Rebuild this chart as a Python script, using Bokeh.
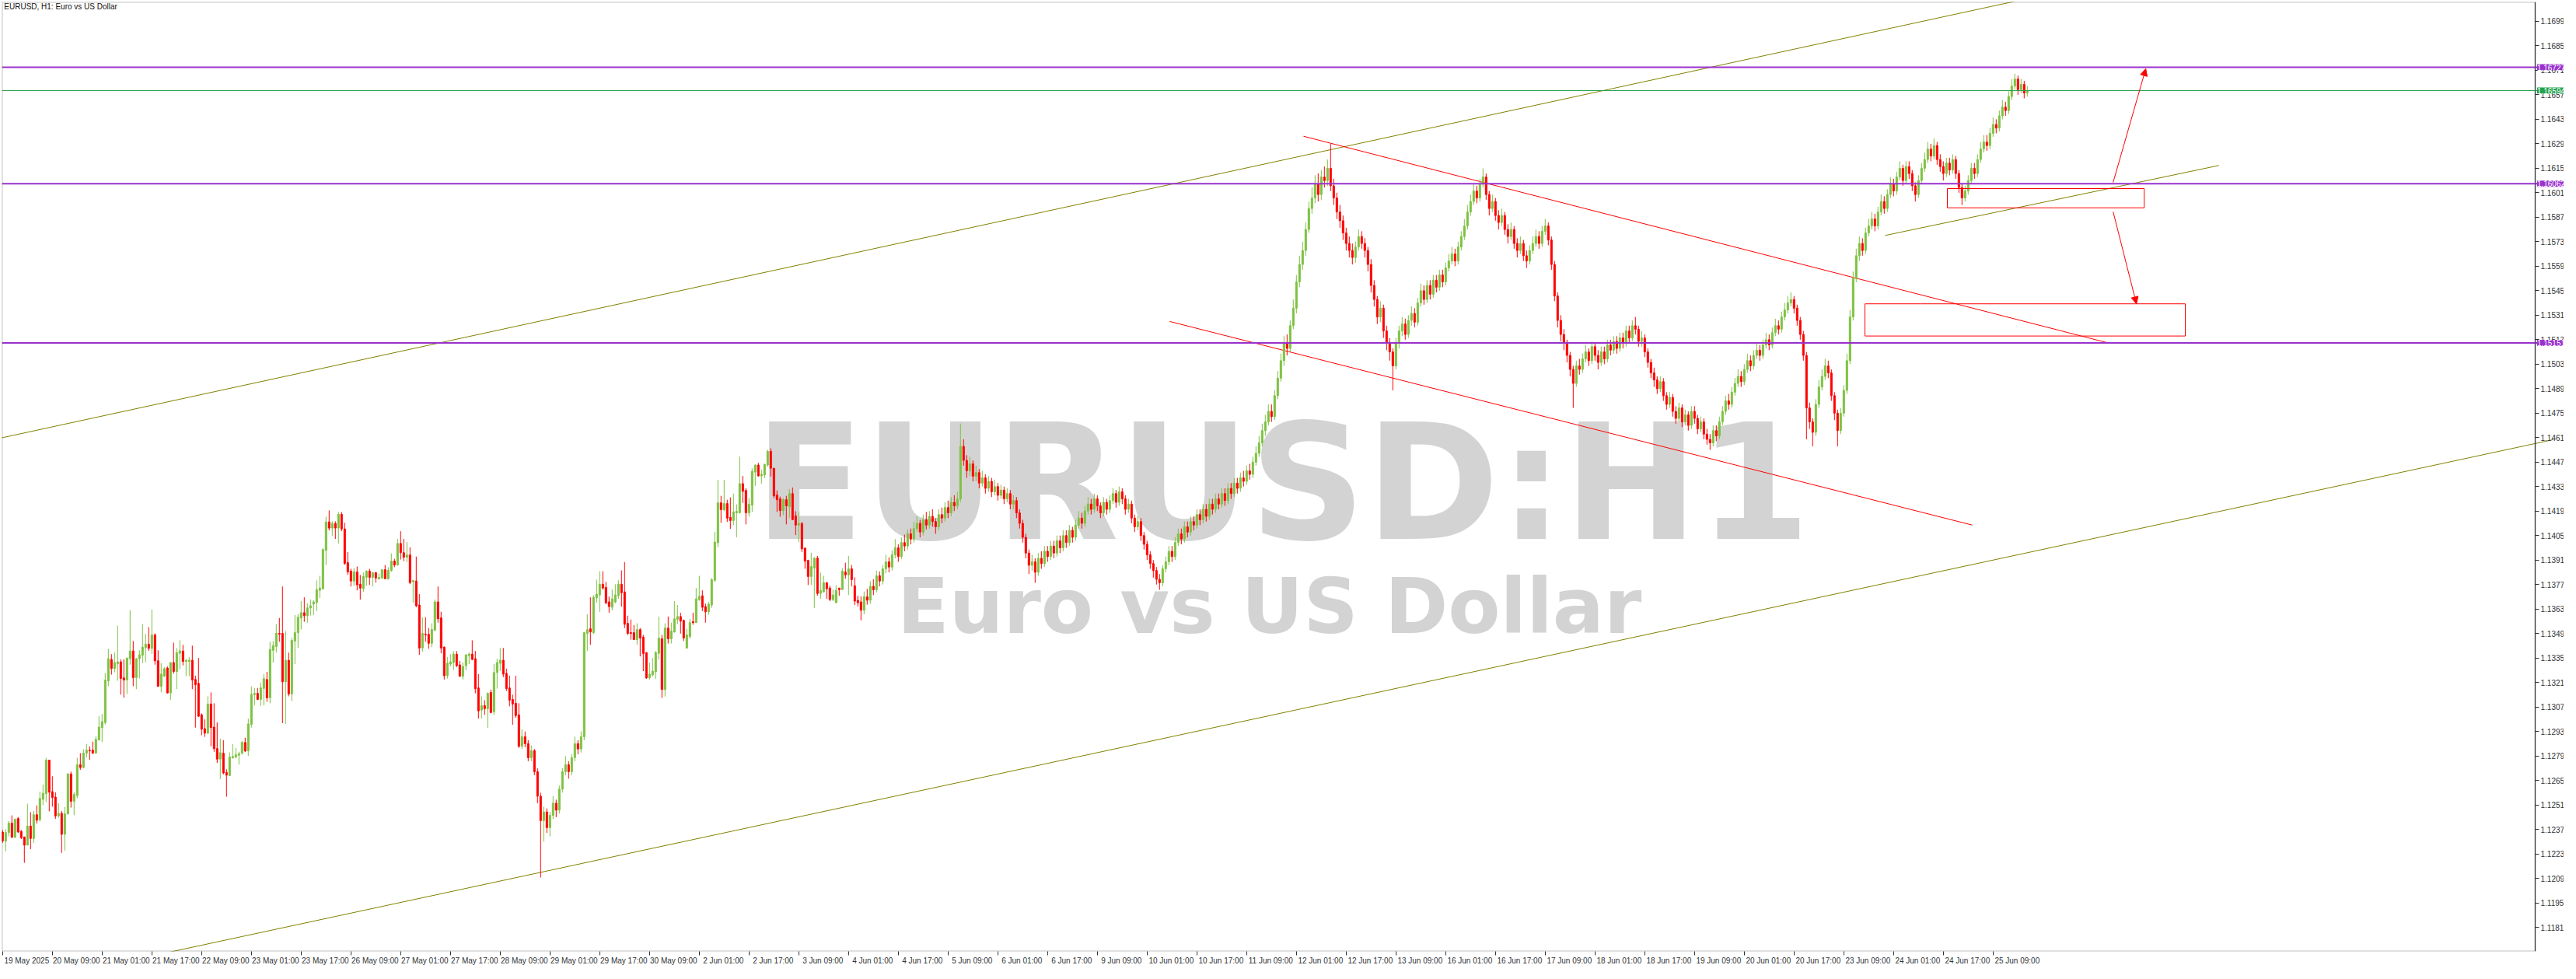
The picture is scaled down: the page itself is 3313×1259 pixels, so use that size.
from bokeh.plotting import figure
from bokeh.models import (Range1d, FixedTicker, PrintfTickFormatter, Span, Label, LinearAxis,
                          Arrow, NormalHead, ColumnDataSource, BoxAnnotation)
from bokeh.embed import file_html
from bokeh.resources import INLINE
from bokeh.core.properties import value

# ---- candle data, prices in points (1e-5) ----
open_pts = [
112355,112302,112352,112406,112324,112432,112358,112327,112280,112389,
112318,112454,112425,112542,112574,112766,112586,112555,112447,112462,
112342,112459,112687,112531,112564,112740,112724,112806,112823,112823,
112806,112882,112952,112981,113219,113342,113290,113317,113328,113236,
113224,113346,113390,113238,113346,113365,113409,113429,113405,113482,
113334,113188,113246,113293,113150,113324,113273,113377,113390,113330,
113330,113337,113227,113205,113025,112946,112920,113087,112955,112832,
112772,112806,112696,112678,112779,112784,112794,112806,112867,112820,
112970,113140,113148,113113,113176,113227,113122,113394,113416,113491,
113491,113214,113337,113144,113447,113495,113579,113609,113592,113636,
113658,113667,113737,113746,113965,114128,114093,114119,114093,114172,
114088,113895,113847,113790,113842,113772,113746,113811,113847,113811,
113838,113803,113807,113855,113803,113851,113904,113882,114005,113952,
113926,113939,113787,113790,113653,113407,113486,113486,113434,113508,
113671,113579,113412,113249,113315,113324,113372,113311,113245,113306,
113363,113372,113346,113179,113052,113078,113060,113153,113043,113267,
113320,113337,113262,113179,113113,113091,113025,112845,112900,112860,
112780,112820,112700,112560,112420,112470,112380,112450,112520,112480,
112600,112700,112740,112700,112780,112860,112830,112900,113490,113517,
113495,113693,113710,113772,113754,113671,113640,113671,113706,113772,
113728,113548,113495,113495,113455,113512,113469,113381,113236,113253,
113271,113376,113460,113170,113521,113460,113499,113570,113587,113565,
113407,113473,113558,113552,113684,113706,113644,113614,113653,113794,
114009,114237,114198,114233,114154,114136,114180,114180,114347,114308,
114180,114224,114413,114453,114391,114396,114453,114532,114435,114281,
114259,114193,114255,114215,114290,114163,114110,114119,113978,113908,
113816,113864,113921,113719,113728,113781,113750,113684,113666,113750,
113741,113842,113825,113860,113763,113680,113671,
113623,113700,113680,113760,113740,113820,113790,113860,113900,113870,
113940,113980,113930,114010,113990,114060,114030,114090,114120,114070,
114140,114110,114160,114130,114100,114170,114150,114210,114180,114240,
114220,114260,114560,114480,114420,114460,114390,114410,114350,114380,
114320,114360,114300,114330,114280,114310,114260,114290,114230,114250,
114180,114120,114040,113950,113880,113900,113840,113920,113890,113960,
113930,113990,113950,114020,113980,114050,114010,114080,114040,114110,
114150,114120,114190,114230,114200,114260,114220,114180,114240,114200,
114250,114290,114240,114300,114260,114200,114230,114150,114100,114130,
114050,114000,113940,113890,113850,113800,113780,113860,113900,113960,
113930,114010,114060,114030,114100,114070,114130,114110,114170,114140,
114200,114160,114230,114200,114260,114230,114290,114250,114320,114290,
114350,114320,114380,114360,114420,114400,114470,114520,114580,114650,
114700,114760,114730,114850,114950,115050,115150,115120,115250,115350,
115500,115600,115680,115800,115920,115980,116060,116000,116100,116080,
116150,116050,115980,115900,115850,115780,115720,115680,115640,115700,
115760,115720,115680,115600,115480,115400,115300,115350,115220,115150,
115100,115020,115150,115220,115260,115200,115280,115320,115270,115380,
115450,115400,115480,115430,115510,115470,115540,115500,115580,115620,
115660,115620,115700,115760,115820,115900,115960,116020,115980,116060,
116100,116000,115920,115960,115880,115840,115880,115800,115760,115800,
115720,115680,115720,115650,115620,115680,115720,115760,115720,115790,
115820,115740,115600,115420,115280,115200,115150,115080,115000,114920,
115020,115000,115060,115100,115050,115130,115080,115040,115100,115060,
115140,115110,115160,115120,115180,115150,115220,115180,115250,115230,
115160,115180,115100,115040,114980,114940,114890,114930,114850,114800,
114840,114760,114720,114780,114700,114740,114680,114760,114720,114660,
114700,114630,114600,114580,114650,114620,114700,114760,114820,114800,
114870,114920,114960,114930,115000,115050,115020,115080,115110,115080,
115140,115170,115140,115210,115250,115230,115300,115340,115380,115400,
115350,115280,115200,115080,114780,114700,114640,114800,114900,114960,
115020,114980,114850,114750,114650,114750,114880,115050,115300,115520,
115650,115720,115680,115780,115820,115860,115820,115900,115960,115920,
116000,116060,116020,116100,116150,116080,116160,116120,116050,116000,
116080,116150,116200,116260,116220,116280,116200,116160,116120,116180,
116140,116200,116120,116040,115980,116020,116080,116150,116120,116200,
116260,116300,116280,116350,116400,116380,116450,116500,116480,116560,
116620,116660,116600,116630,116580,
]
high_pts = [
112367,112371,112418,112450,112432,112441,112367,112327,112517,112468,
112476,112507,112586,112626,112779,112766,112674,112582,112520,112476,
112498,112692,112700,112582,112779,112806,112828,112858,112845,112872,
112902,113017,113030,113263,113403,113372,113381,113535,113342,113342,
113350,113623,113447,113350,113394,113544,113487,113526,113627,113491,
113394,113320,113298,113302,113324,113438,113407,113451,113425,113346,
113355,113421,113249,113350,113034,112999,113131,113153,113091,112981,
112889,112880,112714,112810,112858,112836,112814,112876,112894,113003,
113188,113179,113179,113210,113258,113271,113443,113447,113544,113579,
113759,113504,113381,113465,113596,113601,113675,113697,113662,113684,
113680,113794,113820,113978,114158,114194,114132,114132,114185,114185,
114123,113956,113860,113864,113873,113825,113838,113851,113860,113838,
113842,113833,113855,113882,113869,113948,113917,114031,114075,114031,
114013,113983,113794,113930,113715,113583,113583,113522,113548,113684,
113759,113614,113416,113355,113372,113390,113390,113333,113324,113372,
113381,113451,113390,113258,113131,113109,113153,113170,113315,113346,
113407,113407,113289,113249,113140,113249,113091,112942,112930,112880,
112850,112830,112720,112580,112500,112490,112470,112560,112540,112620,
112720,112790,112760,112800,112900,112880,112930,113499,113600,113697,
113710,113798,113846,113846,113785,113701,113741,113772,113794,113851,
113899,113592,113570,113539,113548,113521,113482,113381,113324,113350,
113390,113587,113482,113548,113587,113552,113675,113653,113609,113570,
113517,113574,113609,113750,113820,113737,113662,113671,113807,114071,
114369,114277,114369,114255,114268,114290,114229,114501,114391,114321,
114264,114435,114457,114466,114426,114461,114540,114549,114435,114308,
114273,114264,114277,114316,114325,114189,114185,114128,113983,113912,
113952,113926,113934,113838,113820,113781,113763,113741,113767,113750,
113864,113895,113934,113882,113811,113706,113702,
113730,113745,113790,113800,113850,113845,113880,113940,113925,113965,
114030,114000,114040,114055,114085,114090,114130,114160,114140,114170,
114185,114190,114200,114150,114200,114210,114240,114250,114270,114280,
114300,114690,114600,114510,114500,114480,114450,114430,114420,114400,
114390,114380,114370,114350,114340,114330,114320,114310,114280,114270,
114200,114140,114060,113970,113940,113920,113950,113960,113990,113990,
114020,114020,114050,114050,114080,114080,114110,114100,114140,114190,
114180,114220,114270,114260,114290,114280,114240,114270,114260,114280,
114320,114310,114330,114320,114280,114260,114250,114170,114160,114150,
114070,114020,113960,113910,113870,113830,113880,113930,113990,113990,
114040,114090,114090,114130,114130,114160,114160,114200,114200,114230,
114230,114260,114260,114290,114290,114320,114320,114350,114350,114380,
114380,114410,114420,114450,114460,114500,114560,114620,114690,114740,
114800,114800,114880,114990,115090,115190,115200,115280,115400,115540,
115650,115730,115840,115960,116040,116110,116120,116140,116160,116200,
116290,116090,116010,115940,115880,115810,115760,115720,115730,115800,
115790,115750,115700,115630,115510,115420,115390,115370,115250,115180,
115120,115180,115250,115300,115290,115310,115360,115350,115410,115490,
115480,115510,115510,115540,115540,115570,115570,115610,115660,115700,
115690,115730,115790,115860,115940,116000,116060,116050,116090,116150,
116120,116020,116000,115980,115910,115920,115900,115830,115840,115820,
115750,115760,115740,115680,115710,115760,115800,115790,115820,115860,
115840,115760,115620,115440,115310,115230,115170,115100,115020,115050,
115060,115090,115140,115120,115160,115150,115110,115130,115130,115170,
115170,115190,115190,115210,115210,115250,115250,115280,115300,115250,
115220,115200,115120,115060,115010,114960,114960,114950,114870,114870,
114860,114790,114810,114800,114770,114760,114790,114790,114740,114730,
114720,114660,114630,114680,114680,114730,114790,114850,114860,114900,
114950,115000,114990,115030,115090,115080,115110,115150,115140,115170,
115210,115200,115240,115290,115280,115330,115380,115420,115440,115420,
115370,115300,115220,115100,114810,114720,114830,114940,115000,115060,
115050,115000,114870,114770,114780,114910,115090,115340,115560,115690,
115760,115750,115810,115860,115900,115890,115930,116000,115990,116030,
116100,116090,116130,116190,116170,116190,116190,116140,116070,116110,
116180,116240,116300,116290,116320,116300,116230,116190,116210,116210,
116230,116220,116140,116060,116050,116110,116180,116180,116230,116300,
116340,116340,116380,116440,116430,116480,116540,116530,116590,116660,
116690,116680,116660,116650,116620,
]
low_pts = [
112293,112245,112330,112324,112323,112349,112315,112179,112280,112257,
112293,112403,112415,112509,112526,112473,112500,112430,112437,112236,
112249,112454,112495,112451,112548,112711,112719,112781,112768,112801,
112803,112877,112869,112970,113189,113255,113268,113220,113141,113123,
113145,113312,113189,113172,113233,113321,113325,113391,113374,113312,
113185,113154,113242,113150,113110,113260,113172,113286,113308,113246,
113246,113172,112952,113012,112908,112899,112916,112845,112814,112750,
112658,112684,112557,112675,112775,112776,112741,112798,112812,112790,
112952,113079,113109,113075,113079,113100,113091,113324,113381,113443,
112977,112973,113131,113104,113315,113407,113513,113557,113552,113592,
113596,113618,113693,113741,113882,114079,114049,114031,114005,114075,
113882,113825,113759,113763,113737,113684,113728,113763,113768,113759,
113781,113798,113803,113803,113798,113842,113869,113877,113913,113904,
113899,113772,113667,113640,113368,113386,113443,113403,113412,113508,
113552,113377,113227,113232,113302,113280,113298,113245,113227,113280,
113315,113337,113148,113003,113003,113025,112951,113034,113025,113175,
113276,113241,113161,113074,112968,113008,112836,112830,112840,112760,
112760,112680,112520,112095,112300,112350,112330,112430,112440,112460,
112580,112680,112660,112680,112760,112800,112810,112880,113390,113425,
113486,113666,113614,113741,113657,113609,113622,113662,113688,113644,
113521,113482,113455,113455,113425,113359,113275,113231,113227,113245,
113231,113341,113122,113130,113433,113433,113495,113543,113490,113447,
113403,113460,113540,113552,113677,113618,113552,113596,113636,113785,
113983,114123,114189,114128,114088,114110,114040,114176,114237,114114,
114158,114185,114334,114387,114347,114378,114444,114387,114264,114185,
114158,114167,114114,114150,114141,114053,114013,113956,113860,113767,
113767,113636,113706,113688,113724,113688,113675,113675,113666,113706,
113741,113803,113710,113759,113653,113645,113565,
113600,113655,113660,113710,113725,113760,113770,113835,113840,113850,
113920,113900,113915,113960,113970,114000,114010,114070,114040,114050,
114085,114090,114100,114060,114080,114120,114130,114150,114160,114190,
114200,114240,114450,114380,114390,114360,114360,114320,114330,114290,
114300,114270,114280,114250,114260,114230,114240,114200,114200,114150,
114090,114010,113920,113830,113850,113780,113820,113860,113870,113900,
113910,113920,113930,113950,113960,113980,113990,114010,114020,114090,
114090,114100,114170,114170,114180,114190,114150,114160,114170,114180,
114230,114210,114220,114230,114170,114180,114120,114070,114080,114020,
113970,113910,113860,113810,113770,113740,113760,113840,113880,113900,
113910,113990,114000,114010,114040,114050,114080,114090,114110,114120,
114130,114140,114170,114180,114200,114210,114220,114230,114260,114270,
114290,114300,114330,114340,114370,114380,114450,114500,114560,114620,
114680,114700,114710,114830,114930,115020,115080,115100,115230,115320,
115470,115570,115650,115780,115890,115950,115960,115970,116040,116050,
116020,115940,115860,115810,115740,115680,115640,115600,115610,115680,
115690,115640,115560,115440,115360,115260,115270,115180,115110,115050,
114880,115000,115120,115190,115170,115180,115250,115240,115250,115360,
115370,115380,115400,115410,115440,115450,115470,115480,115560,115600,
115590,115600,115680,115740,115800,115880,115940,115950,115960,116040,
115970,115880,115900,115850,115800,115820,115770,115720,115740,115690,
115640,115660,115620,115580,115600,115660,115700,115690,115700,115770,
115710,115570,115390,115240,115160,115110,115040,114960,114780,114900,
114970,114980,115040,115020,115030,115050,115000,115020,115030,115040,
115080,115090,115090,115100,115120,115130,115150,115160,115200,115130,
115130,115070,115010,114950,114900,114860,114870,114820,114770,114780,
114730,114690,114700,114670,114680,114650,114660,114690,114630,114640,
114600,114570,114540,114560,114590,114600,114680,114740,114770,114780,
114850,114900,114900,114910,114980,114990,115000,115060,115050,115060,
115120,115110,115120,115190,115200,115210,115280,115320,115360,115320,
115250,115170,115050,114600,114660,114560,114620,114780,114880,114940,
114950,114820,114710,114560,114630,114730,114860,115030,115280,115500,
115620,115650,115660,115760,115800,115790,115800,115880,115890,115900,
115980,115990,116000,116080,116050,116060,116090,116020,115960,115980,
116060,116130,116180,116190,116200,116170,116130,116080,116100,116110,
116120,116090,116010,115940,115960,116000,116060,116090,116100,116180,
116240,116250,116260,116330,116350,116360,116430,116450,116460,116540,
116600,116570,116580,116550,116560,
]
close_pts = [
112304,112352,112406,112324,112428,112355,112323,112280,112389,112318,
112454,112422,112547,112577,112766,112583,112553,112447,112462,112342,
112459,112687,112531,112569,112740,112724,112806,112823,112819,112806,
112885,112955,112986,113223,113346,113290,113324,113328,113233,113224,
113350,113390,113238,113346,113368,113412,113429,113405,113482,113334,
113188,113258,113289,113150,113324,113273,113381,113391,113330,113336,
113337,113224,113198,113017,112943,112920,113087,112952,112832,112772,
112809,112693,112680,112784,112787,112797,112803,112867,112819,112973,
113142,113148,113113,113179,113232,113122,113399,113421,113491,113486,
113214,113337,113144,113451,113495,113583,113609,113592,113636,113649,
113671,113741,113750,113970,114128,114093,114119,114093,114172,114088,
113891,113842,113790,113842,113768,113750,113816,113847,113811,113838,
113807,113811,113855,113803,113851,113904,113882,114005,113952,113926,
113939,113781,113793,113649,113407,113491,113482,113434,113513,113671,
113574,113407,113249,113320,113328,113372,113306,113245,113302,113368,
113372,113342,113175,113047,113078,113060,113148,113038,113267,113324,
113337,113258,113175,113109,113087,113021,112845,112900,112860,112780,
112820,112700,112560,112420,112470,112380,112450,112520,112480,112600,
112700,112740,112700,112780,112860,112830,112900,113495,113512,113499,
113697,113715,113772,113750,113666,113644,113688,113710,113772,113723,
113543,113490,113490,113455,113512,113464,113376,113236,113258,113275,
113381,113464,113170,113521,113460,113504,113574,113587,113561,113464,
113482,113552,113552,113688,113702,113640,113614,113658,113798,114013,
114237,114198,114233,114150,114136,114185,114189,114347,114303,114180,
114229,114417,114453,114391,114400,114457,114532,114435,114277,114255,
114193,114255,114220,114290,114141,114110,114119,113974,113904,113816,
113873,113921,113719,113737,113781,113746,113684,113710,113737,113741,
113847,113825,113860,113798,113675,113666,113623,
113700,113680,113760,113740,113820,113790,113860,113900,113870,113940,
113980,113930,114010,113990,114060,114030,114090,114120,114070,114140,
114110,114160,114130,114100,114170,114150,114210,114180,114240,114220,
114260,114560,114480,114420,114460,114390,114410,114350,114380,114320,
114360,114300,114330,114280,114310,114260,114290,114230,114250,114180,
114120,114040,113950,113880,113900,113840,113920,113890,113960,113930,
113990,113950,114020,113980,114050,114010,114080,114040,114110,114150,
114120,114190,114230,114200,114260,114220,114180,114240,114200,114250,
114290,114240,114300,114260,114200,114230,114150,114100,114130,114050,
114000,113940,113890,113850,113800,113780,113860,113900,113960,113930,
114010,114060,114030,114100,114070,114130,114110,114170,114140,114200,
114160,114230,114200,114260,114230,114290,114250,114320,114290,114350,
114320,114380,114360,114420,114400,114470,114520,114580,114650,114700,
114760,114730,114850,114950,115050,115150,115120,115250,115350,115500,
115600,115680,115800,115920,115980,116060,116000,116100,116080,116150,
116050,115980,115900,115850,115780,115720,115680,115640,115700,115760,
115720,115680,115600,115480,115400,115300,115350,115220,115150,115100,
115020,115150,115220,115260,115200,115280,115320,115270,115380,115450,
115400,115480,115430,115510,115470,115540,115500,115580,115620,115660,
115620,115700,115760,115820,115900,115960,116020,115980,116060,116100,
116000,115920,115960,115880,115840,115880,115800,115760,115800,115720,
115680,115720,115650,115620,115680,115720,115760,115720,115790,115820,
115740,115600,115420,115280,115200,115150,115080,115000,114920,115020,
115000,115060,115100,115050,115130,115080,115040,115100,115060,115140,
115110,115160,115120,115180,115150,115220,115180,115250,115230,115160,
115180,115100,115040,114980,114940,114890,114930,114850,114800,114840,
114760,114720,114780,114700,114740,114680,114760,114720,114660,114700,
114630,114600,114580,114650,114620,114700,114760,114820,114800,114870,
114920,114960,114930,115000,115050,115020,115080,115110,115080,115140,
115170,115140,115210,115250,115230,115300,115340,115380,115400,115350,
115280,115200,115080,114780,114700,114640,114800,114900,114960,115020,
114980,114850,114750,114650,114750,114880,115050,115300,115520,115650,
115720,115680,115780,115820,115860,115820,115900,115960,115920,116000,
116060,116020,116100,116150,116080,116160,116120,116050,116000,116080,
116150,116200,116260,116220,116280,116200,116160,116120,116180,116140,
116200,116120,116040,115980,116020,116080,116150,116120,116200,116260,
116300,116280,116350,116400,116380,116450,116500,116480,116560,116620,
116660,116600,116630,116580,116594,
]

x_tick_labels = ["19 May 2025", "20 May 09:00", "21 May 01:00", "21 May 17:00", "22 May 09:00",
                 "23 May 01:00", "23 May 17:00", "26 May 09:00", "27 May 01:00", "27 May 17:00",
                 "28 May 09:00", "29 May 01:00", "29 May 17:00", "30 May 09:00", "2 Jun 01:00",
                 "2 Jun 17:00", "3 Jun 09:00", "4 Jun 01:00", "4 Jun 17:00", "5 Jun 09:00",
                 "6 Jun 01:00", "6 Jun 17:00", "9 Jun 09:00", "10 Jun 01:00", "10 Jun 17:00",
                 "11 Jun 09:00", "12 Jun 01:00", "12 Jun 17:00", "13 Jun 09:00", "16 Jun 01:00",
                 "16 Jun 17:00", "17 Jun 09:00", "18 Jun 01:00", "18 Jun 17:00", "19 Jun 09:00",
                 "20 Jun 01:00", "20 Jun 17:00", "23 Jun 09:00", "24 Jun 01:00", "24 Jun 17:00",
                 "25 Jun 09:00"]
x_tick_bars = [16 * i for i in range(len(x_tick_labels))]

y_ticks = [1.11810, 1.11950, 1.12090, 1.12230, 1.12370, 1.12510, 1.12650, 1.12790, 1.12930,
           1.13070, 1.13210, 1.13350, 1.13490, 1.13630, 1.13770, 1.13910, 1.14050, 1.14190,
           1.14330, 1.14470, 1.14610, 1.14750, 1.14890, 1.15030, 1.15170, 1.15310, 1.15450,
           1.15590, 1.15730, 1.15870, 1.16010, 1.16150, 1.16290, 1.16430, 1.16570, 1.16710,
           1.16850, 1.16990]

level_prices = [1.16727, 1.16062, 1.15151]
bid_price = 1.16594

# trend lines (bar index, price)
olive_upper_x = [-1, 700]
olive_upper_y = [1.14606, 1.17309]
olive_lower_x = [40, 820]
olive_lower_y = [1.11616, 1.14598]
olive_small_x = [605.3, 712.6]
olive_small_y = [1.15766, 1.16166]
red_upper_x = [418.3, 677.1]
red_upper_y = [1.16333, 1.15151]
red_lower_x = [375.3, 633.3]
red_lower_y = [1.15274, 1.14110]

zone_left = [625.3, 598.8]
zone_right = [688.6, 701.8]
zone_top = [1.16034, 1.15375]
zone_bottom = [1.15924, 1.15191]

arrow_x0 = [678.6, 678.6]
arrow_y0 = [1.16069, 1.15902]
arrow_x1 = [689.1, 686.1]
arrow_y1 = [1.16719, 1.15375]

# ---- build ----
n = len(close_pts)
xs = list(range(n))
o = [v / 1e5 for v in open_pts]
h = [v / 1e5 for v in high_pts]
l = [v / 1e5 for v in low_pts]
c = [v / 1e5 for v in close_pts]
GREEN = "#7DC142"
RED = "#FF0000"
colors = [GREEN if c[i] >= o[i] else RED for i in range(n)]
src = ColumnDataSource(dict(x=xs, o=o, h=h, l=l, c=c,
                            top=[max(a, b) for a, b in zip(o, c)],
                            bottom=[min(a, b) for a, b in zip(o, c)],
                            color=colors))

X0, X1 = -0.2, 823.55
AXIS_X = 814.3
Y0, Y1 = 1.116725, 1.17101
p = figure(width=3297, height=1243, x_range=Range1d(X0, X1),
           y_range=Range1d(Y0, Y1), y_axis_location=None,
           output_backend="svg", toolbar_location=None,
           min_border_left=2, min_border_top=2, min_border_right=0, min_border_bottom=0)
p.grid.visible = False
p.background_fill_color = "white"
p.border_fill_color = "white"
p.outline_line_color = None

FONT = "Liberation Sans"
AX = "#2F3336"

# price scale drawn at the chart's right edge
yax = LinearAxis(fixed_location=AXIS_X, ticker=FixedTicker(ticks=y_ticks),
                 formatter=PrintfTickFormatter(format="%.5f"))
yax.major_label_text_font = FONT
yax.major_label_text_font_size = "10px"
yax.major_label_text_color = AX
yax.major_tick_out = 5
yax.major_tick_in = 0
yax.minor_tick_line_color = None
yax.major_tick_line_color = AX
yax.axis_line_color = AX
yax.major_label_standoff = 2
p.add_layout(yax, "right")

# time scale: tick marks, then labels starting just right of each tick
p.xaxis.ticker = FixedTicker(ticks=x_tick_bars)
p.xaxis.major_label_overrides = {b: t for b, t in zip(x_tick_bars, x_tick_labels)}
p.xaxis.major_label_text_font = FONT
p.xaxis.major_label_text_font_size = "0px"
p.xaxis.major_tick_out = 5
p.xaxis.major_tick_in = 0
p.xaxis.minor_tick_line_color = None
p.xaxis.major_tick_line_color = AX
p.xaxis.axis_line_color = None
p.xaxis.major_label_standoff = 0

lab_pos = [b + 7.75 for b in x_tick_bars]
xlab = LinearAxis(ticker=FixedTicker(ticks=lab_pos),
                  major_label_overrides={b: t for b, t in zip(lab_pos, x_tick_labels)})
xlab.major_label_text_font = FONT
xlab.major_label_text_font_size = "10px"
xlab.major_label_text_color = AX
xlab.major_tick_line_color = None
xlab.minor_tick_line_color = None
xlab.axis_line_color = None
xlab.major_tick_out = 0
xlab.major_label_standoff = 1
p.add_layout(xlab, "below")

# watermark (behind candles)
p.text(x=[411.5], y=[1.14347], text=["EURUSD:H1"], text_font=value("DejaVu Sans"),
       text_font_style="bold", text_font_size="207px", text_color="#D3D3D3",
       text_align="center", text_baseline="middle")
p.text(x=[407.3], y=[1.13645], text=["Euro vs US Dollar"], text_font=value("DejaVu Sans"),
       text_font_style="bold", text_font_size="98px", text_color="#D3D3D3",
       text_align="center", text_baseline="middle")

# trend lines
p.line(olive_upper_x, olive_upper_y, line_color="#808000", line_width=1)
p.line(olive_lower_x, olive_lower_y, line_color="#808000", line_width=1)
p.line(olive_small_x, olive_small_y, line_color="#808000", line_width=1)
p.line(red_upper_x, red_upper_y, line_color="#FF0000", line_width=1)
p.line(red_lower_x, red_lower_y, line_color="#FF0000", line_width=1)

for lv in level_prices:
    p.add_layout(Span(location=lv, dimension="width", line_color="#9932CC", line_width=2))
p.add_layout(Span(location=bid_price, dimension="width", line_color="#22A04B", line_width=1))

# candles
p.segment(x0="x", y0="l", x1="x", y1="h", line_color="color", line_width=1, source=src)
p.vbar(x="x", top="top", bottom="bottom", width=0.5, fill_color="color",
       line_color="color", line_width=1, source=src)

# zones and arrows
p.quad(left=zone_left, right=zone_right, top=zone_top, bottom=zone_bottom,
       fill_color=None, line_color="#FF0000", line_width=1)
for i in range(len(arrow_x0)):
    p.add_layout(Arrow(end=NormalHead(size=9, fill_color="#FF0000", line_color="#FF0000"),
                       x_start=arrow_x0[i], y_start=arrow_y0[i],
                       x_end=arrow_x1[i], y_end=arrow_y1[i],
                       line_color="#FF0000", line_width=1))

# white area right of the price scale line, and the chart border
p.add_layout(BoxAnnotation(left=AXIS_X, right=X1, top=Y1, bottom=Y0,
                           fill_color="white", fill_alpha=1.0, line_color=None,
                           level="underlay"))
p.add_layout(BoxAnnotation(left=X0, right=AXIS_X, top=Y1, bottom=Y0,
                           fill_color=None, line_color=AX, line_width=2))

# price tags on the right scale
for lv in level_prices:
    p.add_layout(Label(x=AXIS_X + 0.6, y=lv, text="%.5f" % lv, text_color="white",
                       text_font=FONT, text_font_size="10px", text_baseline="middle",
                       text_align="left", background_fill_color="#9932CC"))
p.add_layout(Label(x=AXIS_X + 0.6, y=bid_price, text="%.5f" % bid_price, text_color="white",
                   text_font=FONT, text_font_size="10px", text_baseline="middle",
                   text_align="left", background_fill_color="#22A04B"))

# title
p.add_layout(Label(x=0.5, y=1.17097, text="EURUSD, H1:  Euro vs US Dollar",
                   text_font=FONT, text_font_size="10px", text_color="#111111",
                   text_baseline="top", text_align="left"))

open("out.html", "w").write(file_html(p, INLINE))
